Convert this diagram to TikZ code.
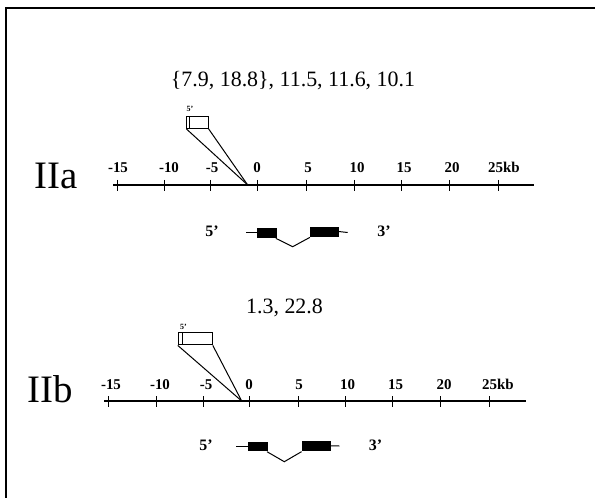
\documentclass[tikz,border=0pt]{standalone}
\usepackage{fontspec}
\setmainfont{Liberation Serif}
\begin{document}
\begin{tikzpicture}[x=1bp,y=-1bp,
  ticklbl/.style={font=\bfseries\fontsize{15}{15}\selectfont, anchor=base, inner sep=0pt},
  biglbl/.style={font=\fontsize{39}{39}\selectfont, anchor=base west, inner sep=0pt},
  toplbl/.style={font=\fontsize{22}{22}\selectfont, anchor=base, inner sep=0pt},
  endlbl/.style={font=\bfseries\fontsize{16}{16}\selectfont, anchor=base, inner sep=0pt},
  smalllbl/.style={font=\bfseries\fontsize{8}{8}\selectfont, anchor=base, inner sep=0pt},
  axisline/.style={line width=1.2bp},
  tickline/.style={line width=0.9bp},
  exon/.style={rectangle, fill=black, draw=black, inner sep=0pt},
  insetbox/.style={rectangle, draw=black, line width=1bp, inner sep=0pt, fill=white},
  thinline/.style={line width=1bp}]
\useasboundingbox (0,0) rectangle (595,498);
% frame (clipped at right and bottom)
\draw[line width=1.5bp] (6,498) -- (6,8) -- (595,8);

% ================= IIa =================
\node[toplbl] (topA) at (293,87) {\{7.9, 18.8\}, 11.5, 11.6, 10.1};
\node[biglbl] (labA) at (34,189) {IIa};
\coordinate (aL) at (113,185);
\coordinate (aR) at (534,185);
\draw[axisline] (aL) -- (aR);
\foreach \x [count=\i] in {117,164,210,257,306,354,401,449,498}
  \draw[tickline] (\x,180) coordinate (ta\i) -- (\x,191);
\foreach \x/\t in {118/-15,169/-10,212/-5,257/0,308/5,357/10,404/15,452/20}
  \node[ticklbl] at (\x,173) {\t};
\node[ticklbl, anchor=base west] (kbA) at (488,173) {25kb};
% inset
\node[insetbox, minimum width=21.3bp, minimum height=11.6bp] (boxA) at (197.4,122.5) {};
\draw[thinline] ([xshift=3.5bp]boxA.north west) -- ([xshift=3.5bp]boxA.south west);
\node[smalllbl] (fiveA) at (190,112) {5'};
\coordinate (apexA) at (247.7,185);
\draw[thinline] (boxA.south west) -- (apexA);
\draw[thinline] (boxA.south east) -- (apexA);
% gene
\node[endlbl] (g5A) at (212,237) {5'};
\node[endlbl] (g3A) at (384,237) {3'};
\coordinate (gAs) at (246,232.5);
\coordinate (gAe) at (347.7,232.5);
\node[exon, minimum width=19bp, minimum height=8.4bp] (eA1) at (266.2,232.5) {};
\node[exon, minimum width=28.3bp, minimum height=8.4bp] (eA2) at (324.2,231.5) {};
\coordinate (vA) at (292.7,246.7);
\draw[thinline] (gAs) -- (eA1.west);
\draw[thinline] (eA2.east) -- (gAe);
\draw[thinline] ([yshift=-1.5bp]eA1.south east) -- (vA) -- ([yshift=-1.5bp]eA2.south west);

% ================= IIb =================
\node[toplbl] (topB) at (284.5,313) {1.3, 22.8};
\node[biglbl] (labB) at (27,402) {IIb};
\coordinate (bL) at (104,401);
\coordinate (bR) at (526,401);
\draw[axisline] (bL) -- (bR);
\foreach \x [count=\i] in {108.3,156,203.3,249.3,298.3,345.7,392.7,440.7,489}
  \draw[tickline] (\x,396) coordinate (tb\i) -- (\x,407);
\foreach \x/\t in {111/-15,160/-10,206/-5,249/0,299/5,347.5/10,395.7/15,444/20}
  \node[ticklbl] at (\x,389) {\t};
\node[ticklbl, anchor=base west] (kbB) at (482,389) {25kb};
% inset
\node[insetbox, minimum width=34bp, minimum height=12.3bp] (boxB) at (195.3,338.8) {};
\draw[thinline] ([xshift=5bp]boxB.north west) -- ([xshift=5bp]boxB.south west);
\node[smalllbl] (fiveB) at (183.5,329) {5'};
\coordinate (apexB) at (241.7,401);
\draw[thinline] (boxB.south west) -- (apexB);
\draw[thinline] (boxB.south east) -- (apexB);
% gene
\node[endlbl] (g5B) at (206,450) {5'};
\node[endlbl] (g3B) at (375.5,450) {3'};
\coordinate (gBs) at (236,446);
\coordinate (gBe) at (339.3,446);
\node[exon, minimum width=18.2bp, minimum height=8bp] (eB1) at (257.7,446) {};
\node[exon, minimum width=28.3bp, minimum height=8.3bp] (eB2) at (315.9,445.8) {};
\coordinate (vB) at (284.3,461.7);
\draw[thinline] (gBs) -- (eB1.west);
\draw[thinline] (eB2.east) -- (gBe);
\draw[thinline] ([yshift=-1.5bp]eB1.south east) -- (vB) -- ([yshift=-1.5bp]eB2.south west);
\end{tikzpicture}
\end{document}
